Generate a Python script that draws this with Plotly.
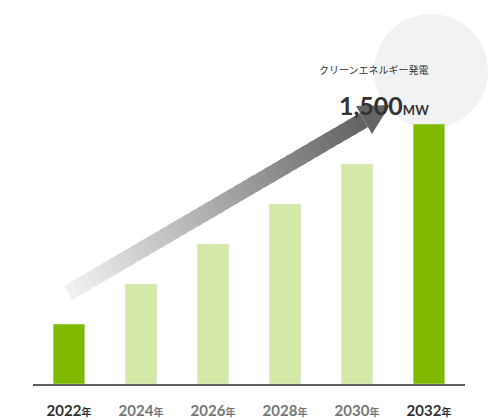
import plotly.graph_objects as go

years = ['2022', '2024', '2026', '2028', '2030', '2032']
output_mw = [346, 577, 808, 1038, 1269, 1500]
bar_colors = ['#7fba00', '#d5e8a8', '#d5e8a8', '#d5e8a8', '#d5e8a8', '#7fba00']
label_colors = ['#333333', '#777777', '#777777', '#777777', '#777777', '#333333']

W, H = 500, 420
L, R, T, B = 25, 43, 0, 44


def px(x, y):
    return (x - L) / (W - L - R), (H - B - y) / (H - T - B)


fig = go.Figure(go.Bar(
    x=list(range(len(years))), y=output_mw,
    marker=dict(color=bar_colors), width=0.44, hoverinfo='skip'
))

shapes = []
# background circle
cx0, cy0 = px(366, 6)
cx1, cy1 = px(480, 120)
shapes.append(dict(type='circle', xref='paper', yref='paper', x0=cx0, y0=cy1, x1=cx1, y1=cy0,
                   fillcolor='#f2f2f2', line=dict(width=0), layer='below'))

# gradient arrow (overlapping segments to hide seams)
sx, sy, ex, ey = 60, 285, 356, 112
n = 40
for i in range(n):
    t0, t1 = i / n, min(1.0, (i + 1.6) / n)
    c = int(245 - (245 - 100) * (i + 1) / n)
    a = px(sx + (ex - sx) * t0, sy + (ey - sy) * t0)
    b = px(sx + (ex - sx) * t1, sy + (ey - sy) * t1)
    shapes.append(dict(type='line', xref='paper', yref='paper', x0=a[0], y0=a[1], x1=b[0], y1=b[1],
                       line=dict(color='rgb(%d,%d,%d)' % (c, c, c), width=16)))
head = [px(382, 97), px(364, 126), px(348, 98)]
path = 'M %f %f L %f %f L %f %f Z' % (head[0] + head[1] + head[2])
shapes.append(dict(type='path', xref='paper', yref='paper', path=path,
                   fillcolor='rgb(100,100,100)', line=dict(width=0)))

tx, ty1 = px(423, 52)
_, ty2 = px(423, 80)
annotations = [
    dict(text='クリーンエネルギー発電', x=tx, y=ty1, xref='paper', yref='paper', showarrow=False,
         font=dict(family='Noto Sans CJK JP', size=10, color='#333333')),
    dict(text="<b>1,500</b><b><span style='font-size:13px'>MW</span></b>", x=tx, y=ty2,
         xref='paper', yref='paper', showarrow=False,
         font=dict(family='Lato', size=25, color='#333333')),
]

ticktext = ["<b><span style='color:%s'>%s<span style='font-size:10px'>年</span></span></b>" % (c, y)
            for y, c in zip(years, label_colors)]

fig.update_layout(
    width=W, height=H, margin=dict(l=L, r=R, t=T, b=B, autoexpand=False),
    plot_bgcolor='white', paper_bgcolor='white', showlegend=False,
    shapes=shapes, annotations=annotations,
    xaxis=dict(range=[-0.5, 5.5], tickvals=list(range(len(years))), ticktext=ticktext,
               showgrid=False, zeroline=False, showline=True, linecolor='#5f5f5f', linewidth=2,
               ticks='', ticklabelstandoff=12, automargin=False,
               tickfont=dict(family='Lato, Noto Sans CJK JP', size=15)),
    yaxis=dict(range=[0, 2169], visible=False, automargin=False),
)

fig.write_html('out.html')
